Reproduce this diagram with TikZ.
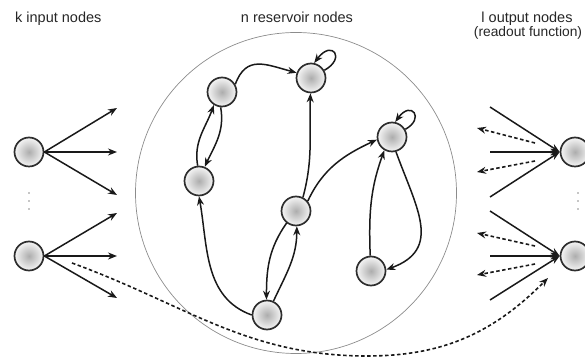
\documentclass[tikz,border=0pt]{standalone}
\usepackage{fontspec}
\setmainfont{Liberation Sans}
\usetikzlibrary{arrows.meta}
\begin{document}
\begin{tikzpicture}[x=1pt,y=1pt,
  neuron/.style={circle, draw=black!82, line width=1.7pt, minimum size=29pt, inner sep=0pt, inner color=black!32, outer color=black!4},
  edge/.style={draw=black!90, line width=1.5pt, -{Stealth[length=9pt,width=7pt]}},
  dashedge/.style={draw=black!90, line width=1.6pt, dash pattern=on 3.5pt off 2.5pt, -{Stealth[length=9pt,width=7pt]}},
  lbl/.style={font=\fontsize{14.5}{14}\selectfont, text=black!85, inner sep=0pt},
  dotmark/.style={fill=black!45}
]
\useasboundingbox (0,0) rectangle (585,358);

% reservoir boundary
\node[circle, draw=black!45, line width=0.7pt, minimum size=321pt, inner sep=0pt] (res) at (296,165) {};

% labels
\node[lbl, anchor=base west] (tin) at (15,335.5) {k input nodes};
\node[lbl, anchor=base] (tres) at (297,335.7) {n reservoir nodes};
\node[lbl, anchor=base] (tout1) at (527,335) {l output nodes};
\node[lbl, anchor=base, font=\fontsize{13.8}{14}\selectfont] (tout2) at (528,321) {(readout function)};

% input nodes
\node[neuron] (I1) at (29,206) {};
\node[neuron] (I2) at (29,102) {};
\fill[dotmark] (29,165) circle (0.8);
\fill[dotmark] (29,157) circle (0.8);
\fill[dotmark] (29,149) circle (0.8);

% output nodes
\node[neuron] (O1) at (575,206) {};
\node[neuron] (O2) at (575,102) {};
\fill[dotmark] (578,165) circle (0.8);
\fill[dotmark] (578,157) circle (0.8);
\fill[dotmark] (578,149) circle (0.8);

% reservoir nodes
\node[neuron] (A) at (222,266) {};
\node[neuron] (B) at (311,280) {};
\node[neuron] (C) at (199,177) {};
\node[neuron] (D) at (296,147) {};
\node[neuron] (E) at (392,221) {};
\node[neuron] (F) at (371,87) {};
\node[neuron] (G) at (267,43) {};

% input arrow ends
\coordinate (i1a) at (117,250);
\coordinate (i1b) at (117,206);
\coordinate (i1c) at (117,163);
\coordinate (i2a) at (117,145);
\coordinate (i2b) at (117,102);
\coordinate (i2c) at (117,60);
\foreach \t in {i1a,i1b,i1c} \draw[edge] (I1.east) -- (\t);
\foreach \t in {i2a,i2b,i2c} \draw[edge] (I2.east) -- (\t);

% output arrows
\coordinate (o1a) at (490,251);
\coordinate (o1b) at (490,206);
\coordinate (o1c) at (490,161);
\coordinate (o2a) at (490,147);
\coordinate (o2b) at (490,102);
\coordinate (o2c) at (490,58);
\foreach \s in {o1a,o1b,o1c} \draw[edge] (\s) -- (O1.west);
\foreach \s in {o2a,o2b,o2c} \draw[edge] (\s) -- (O2.west);

% feedback (dashed) arrows
\coordinate (f1s) at (535,215); \coordinate (f1e) at (477,230);
\coordinate (f2s) at (535,197); \coordinate (f2e) at (477,186);
\coordinate (f3s) at (535,112); \coordinate (f3e) at (477,125);
\coordinate (f4s) at (535,94);  \coordinate (f4e) at (477,83);
\draw[dashedge] (f1s) -- (f1e);
\draw[dashedge] (f2s) -- (f2e);
\draw[dashedge] (f3s) -- (f3e);
\draw[dashedge] (f4s) -- (f4e);

% direct input-output dashed connection
\coordinate (dStart) at (72,95);
\coordinate (dLow) at (367,2);
\coordinate (dEnd) at (548,80);
\draw[dashedge] (dStart) to[out=-20,in=180] (dLow) to[out=0,in=-135] (dEnd);

% reservoir connections
\draw[edge] (A.30) to[out=70,in=165,looseness=1.3] (B.160);
\draw[edge] (B.30) .. controls +(22,12) and +(18,24) .. (B.78);
\draw[edge] (E.30) .. controls +(20,11) and +(16,22) .. (E.78);
\draw[edge] (C.95) to[out=100,in=250] (A.238);
\draw[edge] (A.265) to[out=280,in=65] (C.68);
\draw[edge] (D.63) to[out=75,in=268] (B.268);
\draw[edge] (D.40) to[out=65,in=205] (E.190);
\draw[edge] (F.93) to[out=92,in=250] (E.240);
\draw[edge] (E.285) to[out=290,in=20,looseness=1.3] (F.5);
\draw[edge] (D.232) to[out=235,in=90] (G.92);
\draw[edge] (G.65) to[out=65,in=270] (D.273);
\draw[edge] (G.180) to[out=160,in=280] (C.270);
\end{tikzpicture}
\end{document}
